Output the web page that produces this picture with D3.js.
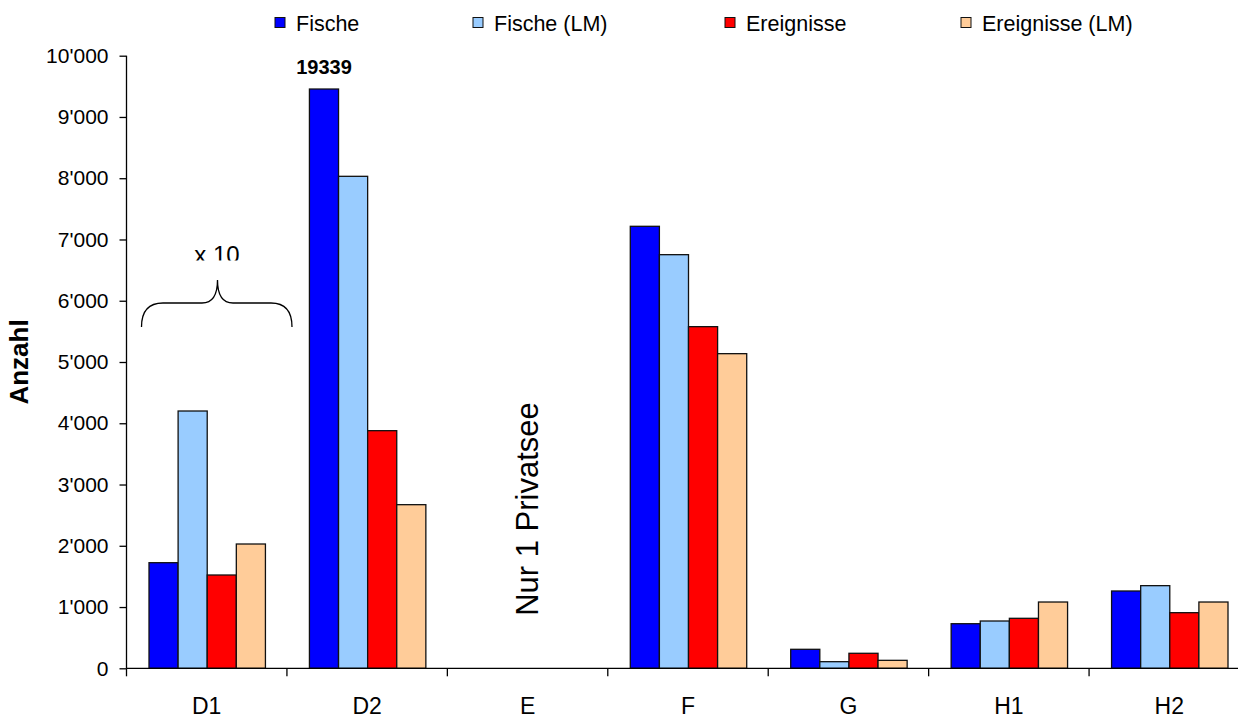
<!DOCTYPE html>
<html><head><meta charset="utf-8">
<script src="https://cdn.jsdelivr.net/npm/d3@7"></script>
<style>body{margin:0;background:#fff;} svg{display:block;font-family:"Liberation Sans",Arial,sans-serif;}</style>
</head><body>
<svg id="c" width="1238" height="719"></svg>
<script>
const categories = ["D1","D2","E","F","G","H1","H2"];
const seriesNames = ["Fische","Fische (LM)","Ereignisse","Ereignisse (LM)"];
const fische      = [1724, 9456, 0, 7215, 310, 728, 1262];
const fischeLM    = [4200, 8031, 0, 6752, 108, 772, 1349];
const ereignisse  = [1523, 3879, 0, 5577, 245, 816, 908];
const ereignisseLM= [2029, 2671, 0, 5136, 130, 1082, 1082];
const colors = ["#0000FF","#99CCFF","#FF0000","#FFCC99"];
const yTicks = [0,1000,2000,3000,4000,5000,6000,7000,8000,9000,10000];
const yTickLabels = ["0","1'000","2'000","3'000","4'000","5'000","6'000","7'000","8'000","9'000","10'000"];

const seriesValues = [fische, fischeLM, ereignisse, ereignisseLM];
const svg = d3.select("#c");
const y = d3.scaleLinear().domain([0,10000]).range([668.3,55.7]);
const x0 = d3.scaleBand().domain(categories).range([126.5,1249.5]).padding(0);
const bw = x0.bandwidth();
const x1 = d3.scaleBand().domain(seriesNames).range([22.5, bw-21.5]).padding(0);

// bars
categories.forEach((c,ci)=>{
  const g = svg.append("g").attr("transform",`translate(${x0(c)},0)`);
  seriesNames.forEach((s,si)=>{
    const v = seriesValues[si][ci];
    if (!v) return;
    g.append("rect")
      .attr("x", x1(s)).attr("y", y(v))
      .attr("width", x1.bandwidth()).attr("height", y(0)-y(v))
      .attr("fill", colors[si]).attr("stroke","#111").attr("stroke-width",1.3);
  });
});

// y axis
const yAxis = d3.axisLeft(y).tickValues(yTicks).tickFormat((d,i)=>yTickLabels[i]).tickSize(7).tickPadding(11);
const ya = svg.append("g").attr("transform","translate(126.5,0)").call(yAxis);
ya.select(".domain").attr("stroke","#000").attr("stroke-width",1.3).attr("d","M0,55.7V668.3");
ya.selectAll(".tick line").attr("stroke","#000").attr("stroke-width",1.3);
ya.selectAll("text").attr("font-size",21).attr("fill","#000").attr("font-family","Liberation Sans, Arial, sans-serif");

// x axis
svg.append("line").attr("x1",126.5).attr("x2",1250).attr("y1",y(0)).attr("y2",y(0)).attr("stroke","#000").attr("stroke-width",1.3);
const bounds = categories.map(c=>x0(c)).concat([x0.range()[1]]);
svg.selectAll(".xt").data(bounds).enter().append("line")
  .attr("x1",d=>d).attr("x2",d=>d).attr("y1",y(0)).attr("y2",y(0)+8)
  .attr("stroke","#000").attr("stroke-width",1.3);
svg.selectAll(".xl").data(categories).enter().append("text")
  .attr("x",d=>x0(d)+bw/2).attr("y",714).attr("text-anchor","middle")
  .attr("font-size",23).attr("fill","#000").text(d=>d);

// y title
svg.append("text").attr("transform","translate(28,362) rotate(-90)").attr("text-anchor","middle")
  .attr("font-size",26).attr("font-weight","bold").text("Anzahl");

// legend
const legX = [275, 473, 725, 961];
seriesNames.forEach((s,i)=>{
  svg.append("rect").attr("x",legX[i]).attr("y",17.5).attr("width",10).attr("height",10)
    .attr("fill",colors[i]).attr("stroke","#111").attr("stroke-width",1);
  svg.append("text").attr("x",legX[i]+21).attr("y",31).attr("font-size",21.5).text(s);
});

// annotations
svg.append("text").attr("x", x0("D2")+x1("Fische")+x1.bandwidth()/2).attr("y",74)
  .attr("text-anchor","middle").attr("font-size",20).attr("font-weight","bold").text("19339");

svg.append("defs").append("clipPath").attr("id","clipx10").append("rect").attr("x",150).attr("y",225).attr("width",140).attr("height",35.5);
svg.append("text").attr("x",217).attr("y",263).attr("text-anchor","middle").attr("font-size",24)
  .attr("clip-path","url(#clipx10)").text("x 10");
svg.append("path").attr("d","M141.5,327 Q141.5,303 163,303 L202,303 Q217.5,303 217.5,280 Q217.5,303 233,303 L271,303 Q292,303 292,327")
  .attr("fill","none").attr("stroke","#000").attr("stroke-width",1.3);

svg.append("text").attr("transform","translate(538,509) rotate(-90)").attr("text-anchor","middle")
  .attr("font-size",31).text("Nur 1 Privatsee");
</script>
</body></html>
